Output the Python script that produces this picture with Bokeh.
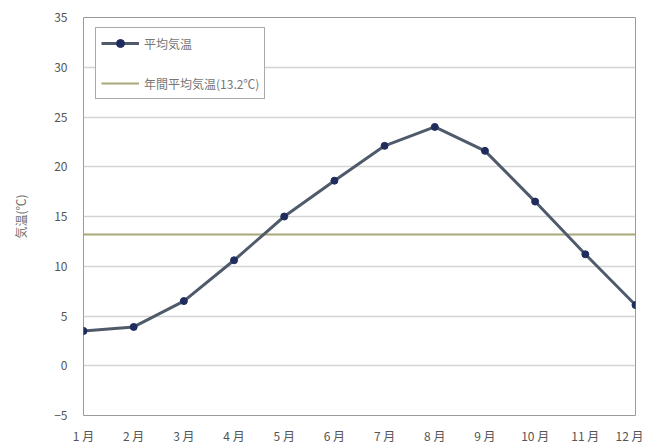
from bokeh.plotting import figure
from bokeh.models import Legend, LegendItem, FixedTicker
from bokeh.embed import file_html
from bokeh.resources import INLINE

months = [1, 2, 3, 4, 5, 6, 7, 8, 9, 10, 11, 12]
month_labels = ["1 月", "2 月", "3 月", "4 月", "5 月", "6 月", "7 月", "8 月", "9 月", "10 月", "11 月", "12 月"]
temps = [3.5, 3.9, 6.5, 10.6, 15.0, 18.6, 22.1, 24.0, 21.6, 16.5, 11.2, 6.1]
annual_mean = 13.2
y_ticks = [-5, 0, 5, 10, 15, 20, 25, 30, 35]

FONT = "Noto Sans CJK JP"

p = figure(width=643, height=447, output_backend="svg", toolbar_location=None,
           x_range=(1, 12), y_range=(-5, 35),
           min_border_left=83, min_border_right=8, min_border_top=17, min_border_bottom=32)
p.background_fill_color = "white"
p.border_fill_color = "white"
p.outline_line_color = "#9a9a9a"
p.outline_line_width = 1

p.xgrid.visible = False
p.ygrid.grid_line_color = "#d4d4d4"
p.ygrid.grid_line_width = 1.5

p.yaxis.ticker = FixedTicker(ticks=y_ticks)
p.xaxis.ticker = FixedTicker(ticks=months)
p.xaxis.major_label_overrides = {m: l for m, l in zip(months, month_labels)}

for ax in (p.xaxis[0], p.yaxis[0]):
    ax.axis_line_color = None
    ax.major_tick_line_color = None
    ax.minor_tick_line_color = None
    ax.major_label_text_font = FONT
    ax.major_label_text_font_size = "12px"
    ax.major_label_text_color = "#555555"

p.xaxis.major_label_standoff = 5
p.yaxis.major_label_standoff = 10
p.yaxis.axis_label = "気温(℃)"
p.yaxis.axis_label_text_font = FONT
p.yaxis.axis_label_text_font_size = "12px"
p.yaxis.axis_label_text_font_style = "normal"
p.yaxis.axis_label_text_color = "#707070"
p.yaxis.axis_label_standoff = 22

mean_line = p.line([1, 12], [annual_mean, annual_mean], line_color="#a8a878", line_width=2)
temp_line = p.line(months, temps, line_color="#4f5b6b", line_width=3)
temp_pts = p.scatter(months, temps, size=7, fill_color="#1f2c5c", line_color="#1f2c5c")

legend = Legend(items=[
    LegendItem(label="平均気温", renderers=[temp_line, temp_pts]),
    LegendItem(label="年間平均気温(13.2℃)", renderers=[mean_line]),
], location=(12, 316))
legend.border_line_color = "#555555"
legend.border_line_width = 1.5
legend.background_fill_alpha = 1
legend.label_text_font = FONT
legend.label_text_font_size = "12px"
legend.label_text_color = "#777777"
legend.glyph_width = 38
legend.spacing = 20
legend.padding = 5
legend.margin = 0
p.add_layout(legend, "center")

open("out.html", "w").write(file_html(p, INLINE))
